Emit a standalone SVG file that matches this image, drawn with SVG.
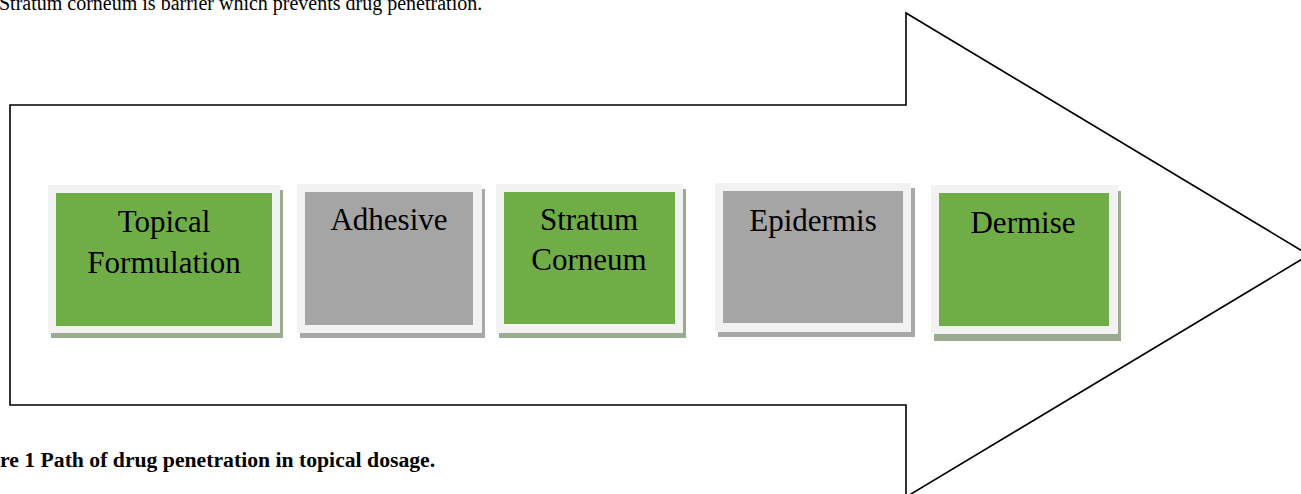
<svg xmlns="http://www.w3.org/2000/svg" width="1301" height="494" viewBox="0 0 1301 494">
<style>
.txt{font-family:"Liberation Serif","Times New Roman",serif;fill:#000}
.lbl{font-size:31px;text-anchor:middle}
.outer{fill:#f2f2f2}
.green{fill:#70ad47}
.gray{fill:#a5a5a5}
.shg{fill:#9aab8f}
.shy{fill:#a8a8a8}
</style>
<rect width="1301" height="494" fill="#fff"/>
<text class="txt" x="-1" y="10" font-size="20">Stratum corneum is barrier which prevents drug penetration.</text>
<g id="connectors">
<polygon id="big-arrow" points="10,105 906,105 906,13 1309,255 906,497 906,405 10,405" fill="#fff" stroke="#000" stroke-width="1.6" stroke-linejoin="miter"/>
</g>
<g id="node-topical">
<rect class="shg" x="51" y="190" width="232" height="148"/>
<rect class="outer" x="48" y="185" width="232" height="148"/>
<rect class="green" x="56" y="193" width="216" height="133"/>
<text class="txt lbl" x="164" y="232">Topical</text>
<text class="txt lbl" x="164" y="273">Formulation</text>
</g>
<g id="node-adhesive">
<rect class="shy" x="300" y="189" width="185" height="149"/>
<rect class="outer" x="297" y="184" width="185" height="149"/>
<rect class="gray" x="305" y="192" width="168" height="133"/>
<text class="txt lbl" x="389" y="230">Adhesive</text>
</g>
<g id="node-stratum">
<rect class="shg" x="499" y="189" width="187" height="149"/>
<rect class="outer" x="496" y="184" width="187" height="149"/>
<rect class="green" x="504" y="192" width="171" height="132"/>
<text class="txt lbl" x="589" y="230">Stratum</text>
<text class="txt lbl" x="589" y="270">Corneum</text>
</g>
<g id="node-epidermis">
<rect class="shy" x="718" y="188" width="197" height="149"/>
<rect class="outer" x="715" y="183" width="196" height="149"/>
<rect class="gray" x="723" y="191" width="180" height="132"/>
<text class="txt lbl" x="813" y="231">Epidermis</text>
</g>
<g id="node-dermise">
<rect class="shg" x="934" y="191" width="187" height="150"/>
<rect class="outer" x="931" y="185" width="187" height="149"/>
<rect class="green" x="939" y="193" width="170" height="133"/>
<text class="txt lbl" x="1023" y="233">Dermise</text>
</g>
<text class="txt" x="0" y="467" font-size="21.7" font-weight="bold">re 1 Path of drug penetration in topical dosage.</text>
</svg>
